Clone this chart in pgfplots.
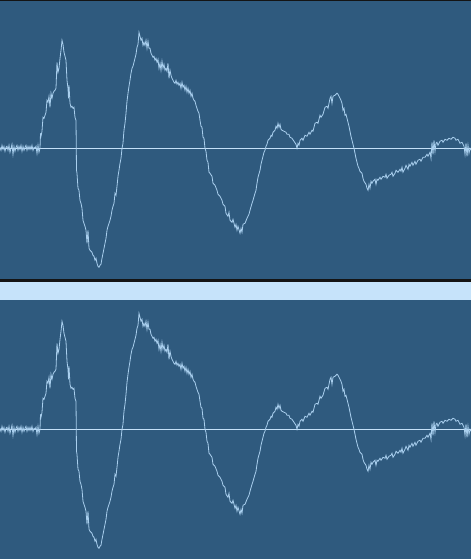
\documentclass[border=0pt]{standalone}
\usepackage{pgfplots}
\usepackage{pgfplotstable}
\pgfplotsset{compat=1.18}
\definecolor{panel}{HTML}{2F5A7E}
\definecolor{wave}{HTML}{A9CFEE}
\definecolor{zeroline}{HTML}{C4E0F8}
\definecolor{strip}{HTML}{C6E3FA}
\definecolor{sep}{HTML}{141414}

% waveform amplitude (x in px, amplitude in px above the zero line)
\pgfplotstableread{
x a
0 1
1 -2
2 3
3 -1
4 2
5 -3
6 1
7 2
8 -2
9 3
10 -4
11 0
12 4
13 -6
14 2
15 -3
16 1
17 3
18 -2
19 2
20 -1
21 3
22 -3
23 2
24 -2
25 1
26 3
27 -2
28 2
29 -1
30 2
31 -1
32 3
33 -2
34 1
35 0
36 2
37 -5
38 3
39 -4
40 0
40.5 15
41 12
42 17
43 31
44 30
45 33
46 36
47 48
48 46
49 52
50 41
51 55
52 50
53 55
54 57
55 58
56 60
57 86
58 76
59 80
60 90
61 98
62 108
63 104
64 96
65 92
66 88
67 68
68 60
68.5 50
69 63
70 45
71 41
72 42
73 40
74 41
75 31
76 28
76.5 -22
77 -25
78 -40
79 -42
80 -52
81 -55
82 -60
83 -72
84 -75
85 -78
86 -82
87 -95
88 -82
89 -100
90 -102
91 -103
92 -104
93 -107
94 -108
95 -112
96 -110
97 -115
98 -118
99 -119
100 -117
101 -116
102 -110
103 -105
104 -100
105 -95
106 -90
107 -82
108 -78
109 -75
110 -72
111 -68
112 -62
113 -58
114 -55
115 -45
116 -47
117 -38
118 -28
119 -22
120 -15
121 -10
122 0
123 5
123.5 12
124 18
125 25
126 35
127 47
128 55
129 62
130 68
131 75
132 80
133 82
134 86
135 90
136 94
137 101
138 104
139 116
140 112
141 108
142 110
143 103
144 106
145 103
146 108
147 100
148 107
149 100
150 100
151 95
152 93
153 91
154 92
155 88
156 90
157 86
158 89
159 80
160 85
161 78
162 87
163 80
164 84
165 78
166 80
167 77
168 85
169 70
170 78
171 73
172 70
173 68
174 66
175 65
176 68
177 64
178 66
179 63
180 65
181 60
182 66
183 61
184 63
185 58
186 62
187 56
188 60
189 55
190 58
191 52
192 55
193 50
194 48
195 47
196 43
197 40
198 37
199 35
200 28
201 22
202 21
203 11
204 10
205 0
206 -3
207 -12
208 -14
209 -24
210 -25
212 -28
213 -35
215 -37
217 -42
218 -46
220 -48
222 -52
223 -56
225 -58
226 -65
228 -68
229 -64
230 -72
232 -74
233 -71
235 -79
236 -76
237 -82
238 -78
240 -85
241 -80
242 -84
243 -76
245 -75
247 -70
249 -66
250 -62
252 -55
253 -52
255 -45
256 -42
257 -35
258 -29
260 -22
261 -16
262 -12
263 -8
264 -4
265 -2
266 2
267 4
268 8
270 10
271 13
272 12
273 16
275 18
276 22
277 20
278 25
279 21
280 24
281 19
282 18
284 17
286 16
287 14
289 14
290 11
292 10
294 7
296 4
297 0
298 5
299 3
300 8
302 10
303 8
305 13
307 12
309 16
310 14
312 18
313 17
315 25
317 26
318 25
320 33
321 31
323 34
325 41
327 42
328 40
330 50
331 52
332 45
333 52
335 53
337 55
338 54
339 52
341 48
342 45
343 38
344 40
345 33
346 34
347 30
348 26
349 22
350 17
351 12
352 8
353 4
354 0
355 -5
356 -10
357 -14
358 -18
359 -20
360 -23
362 -25
363 -30
364 -33
366 -36
367 -40
368 -42
369 -36
370 -40
371 -33
372 -35
373 -33
375 -31
376 -36
377 -31
378 -32
380 -29
381 -31
383 -28
385 -29
386 -26
387 -30
389 -27
391 -26
392 -24
393 -28
395 -25
396 -22
398 -24
400 -21
401 -23
402 -19
403 -24
405 -20
406 -17
408 -21
409 -16
410 -18
412 -14
413 -17
415 -13
416 -16
418 -12
420 -11
421 -13
423 -9
425 -9
427 -6
428 -8
430 -4
431 -10
432 6
433 -6
434 8
435 -3
436 5
437 6
438 3
440 7
442 8
443 6
445 9
447 8
449 10
451 9
453 11
455 10
456 8
458 9
460 5
462 6
464 2
465 -6
466 5
467 -8
468 3
469 -5
470 0
471 -2
}\wave

\pgfplotsset{
  panel/.style={
    scale only axis, hide axis, clip=true,
    width=471pt, xmin=0, xmax=471,
    anchor=south west,
  },
}

\begin{document}
\begin{tikzpicture}[x=1pt,y=1pt]
% frame: black rules, two panels and the light strip between them
\fill[sep] (0,0) rectangle (471,559);
\fill[panel] (0,280) rectangle (471,558);
\fill[strip] (0,259) rectangle (471,277);
\fill[panel] (0,0) rectangle (471,259);

%% top panel
\begin{axis}[panel, at={(0,280)}, height=278pt, ymin=-130.7, ymax=147.3]
\addplot[zeroline, line width=0.9pt] coordinates {(0,0) (471,0)};
\addplot[wave, line width=0.8pt] table[x=x, y=a] {\wave};
\end{axis}

%% bottom panel
\begin{axis}[panel, at={(0,0)}, height=259pt, ymin=-129.7, ymax=129.3]
\addplot[zeroline, line width=0.9pt] coordinates {(0,0) (471,0)};
\addplot[wave, line width=0.8pt] table[x=x, y=a] {\wave};
\end{axis}
\end{tikzpicture}
\end{document}
